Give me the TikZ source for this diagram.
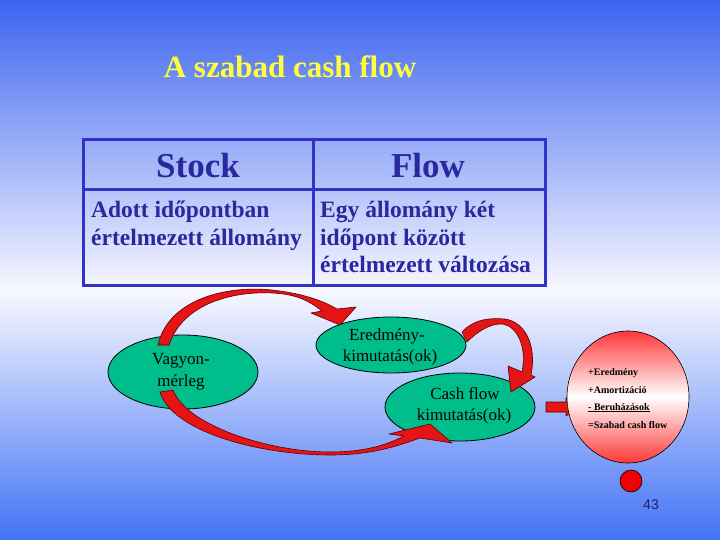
\documentclass[tikz,border=0pt]{standalone}
\usepackage{fontspec}
\setmainfont{Liberation Serif}
\newfontfamily\numfont{Liberation Sans}
\usetikzlibrary{shapes.geometric}
\definecolor{bgtop}{RGB}{60,100,240}
\definecolor{bgmid}{RGB}{248,248,255}
\definecolor{bgbot}{RGB}{65,115,245}
\definecolor{ttl}{RGB}{255,255,60}
\definecolor{tblline}{RGB}{50,50,200}
\definecolor{tbltext}{RGB}{40,40,160}
\definecolor{ellgreen}{RGB}{0,190,140}
\definecolor{arrred}{RGB}{230,20,20}
\definecolor{arredge}{RGB}{90,0,0}
\definecolor{circred}{RGB}{255,55,55}
\definecolor{numcol}{RGB}{30,30,110}
\tikzset{
  tbl/.style={draw=tblline, line width=3},
  hdr/.style={text=tbltext, font=\fontsize{35}{35}\selectfont\bfseries, anchor=base, inner sep=0},
  body/.style={text=tbltext, font=\fontsize{23.5}{27.5}\selectfont\bfseries, anchor=base west, inner sep=0},
  greenell/.style={ellipse, draw=black, line width=0.8, fill=ellgreen, inner sep=0},
  elltext/.style={font=\fontsize{17}{22}\selectfont, anchor=base, inner sep=0},
  blockarrow/.style={fill=arrred, draw=arredge, line width=0.6, line join=round},
  circtext/.style={font=\fontsize{10}{10}\selectfont\bfseries, anchor=base west, inner sep=0},
}
\begin{document}
\begin{tikzpicture}[x=1pt,y=-1pt]
\useasboundingbox (0,0) rectangle (720,540);
% background
\shade[top color=bgtop, bottom color=bgmid] (0,0) rectangle (720,291);
\shade[top color=bgmid, bottom color=bgbot] (0,290) rectangle (720,540);
% title
\node[text=ttl, font=\fontsize{31}{31}\selectfont\bfseries, anchor=base, inner sep=0] (title) at (290,78) {A szabad cash flow};
% table
\draw[tbl] (83,140) rectangle (545,285);
\draw[tbl] (313,140) -- (313,285);
\draw[tbl] (83,190) -- (545,190);
\node[hdr] (stock) at (198,178) {Stock};
\node[hdr] (flow) at (428,178) {Flow};
\node[body] (s1) at (91,218) {Adott időpontban};
\node[body] (s2) at (91,245) {értelmezett állomány};
\node[body] (f1) at (320,218) {Egy állomány két};
\node[body] (f2) at (320,245) {időpont között};
\node[body] (f3) at (320,272) {értelmezett változása};
% ellipses
\node[greenell, minimum width=150, minimum height=74] (vagyon) at (183,372) {};
\node[greenell, minimum width=150, minimum height=56] (eredmeny) at (391,345) {};
\node[greenell, minimum width=150, minimum height=68] (cashflow) at (460,407) {};
\node[elltext] (v1) at (181,364) {Vagyon-};
\node[elltext] (v2) at (181,386) {mérleg};
\node[elltext] (e1) at (387,340) {Eredmény-};
\node[elltext] (e2) at (390,361) {kimutatás(ok)};
\node[elltext] (c1) at (465,399) {Cash flow};
\node[elltext] (c2) at (464,420) {kimutatás(ok)};
% curved block arrows
\draw[blockarrow] (158,345) .. controls (168,300) and (225,285) .. (272,290)
  .. controls (300,293) and (322,300) .. (337,309) -- (356,307) -- (340,325) -- (311,313) -- (322,311)
  .. controls (308,300) and (295,294) .. (272,293) .. controls (230,291) and (182,305) .. (169,345) -- cycle;
\draw[blockarrow] (462,332) .. controls (475,318) and (492,318) .. (505,319)
  .. controls (525,322) and (537,345) .. (531,375) -- (535,377) -- (511,392) -- (508,366) -- (522,372)
  .. controls (527,348) and (518,327) .. (503,324) .. controls (490,323) and (477,332) .. (467,342) -- cycle;
\draw[blockarrow] (160,392) .. controls (172,432) and (260,455) .. (330,455)
  .. controls (370,455) and (395,447) .. (420,438) -- (452,443) -- (430,424) -- (389,434) -- (404,436)
  .. controls (385,446) and (362,452) .. (330,452) .. controls (268,452) and (186,425) .. (173,390) -- cycle;
% straight small arrow
\draw[blockarrow] (546,402) -- (566,402) -- (566,398) -- (579,407) -- (566,416) -- (566,412) -- (546,412) -- cycle;
% red circle
\node[ellipse, draw=black, line width=0.6, minimum width=122, minimum height=132, inner sep=0,
      top color=circred, bottom color=circred, middle color=white] (circ) at (628,397) {};
\node[circtext] (t1) at (588,375) {+Eredmény};
\node[circtext] (t2) at (588,393) {+Amortizáció};
\node[circtext] (t3) at (588,410) {\underline{- Beruházások}};
\node[circtext] (t4) at (588,428) {=Szabad cash flow};
% dot
\node[circle, draw=black, line width=0.6, fill=red!95!black, minimum size=22, inner sep=0] (dot) at (631,481) {};
% page number
\node[text=numcol, font=\fontsize{14}{14}\selectfont\numfont, anchor=base, inner sep=0] (num) at (651,509) {43};
\end{tikzpicture}
\end{document}
